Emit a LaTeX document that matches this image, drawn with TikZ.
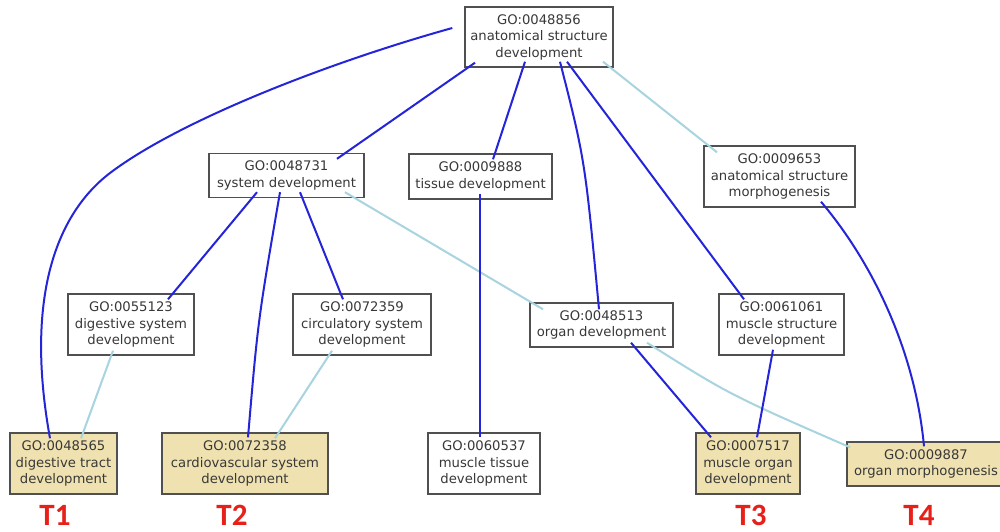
\documentclass[tikz,border=0pt]{standalone}
\usepackage{fontspec}
\setmainfont{DejaVu Sans}
\newfontfamily\labfont{Carlito}
\definecolor{edgeblue}{HTML}{2424D8}
\definecolor{edgelight}{HTML}{A8D4E0}
\definecolor{boxfill}{HTML}{F0E2B0}
\definecolor{boxdraw}{HTML}{505050}
\definecolor{boxtext}{HTML}{383838}
\definecolor{tred}{HTML}{E8201A}
\begin{document}
\begin{tikzpicture}[x=1pt,y=-1pt,
  gobox/.style={draw=boxdraw, line width=1.4pt, fill=white, text=boxtext, align=center,
    inner sep=0pt, font=\fontsize{13.2}{16.5}\selectfont},
  target/.style={gobox, fill=boxfill},
  isa/.style={draw=edgeblue, line width=2pt},
  partof/.style={draw=edgelight, line width=2pt},
  tlabel/.style={text=tred, font=\labfont\bfseries\fontsize{31}{31}\selectfont, inner sep=0pt}]
\useasboundingbox (0,0) rectangle (1000,531);
\fill[white] (0,0) rectangle (1000,531);
% nodes
\node[gobox, minimum width=148, minimum height=60] (A) at (539,37) {GO:0048856\\anatomical structure\\development};
\node[gobox, minimum width=155, minimum height=44] (B) at (286.5,175.5) {GO:0048731\\system development};
\node[gobox, minimum width=143, minimum height=45] (C) at (480.5,176.5) {GO:0009888\\tissue development};
\node[gobox, minimum width=151, minimum height=61] (D) at (779.5,176.5) {GO:0009653\\anatomical structure\\morphogenesis};
\node[gobox, minimum width=126, minimum height=61] (E) at (131,324.5) {GO:0055123\\digestive system\\development};
\node[gobox, minimum width=138, minimum height=61] (F) at (362,324.5) {GO:0072359\\circulatory system\\development};
\node[gobox, minimum width=143, minimum height=44] (G) at (601.5,325) {GO:0048513\\organ development};
\node[gobox, minimum width=125, minimum height=61] (H) at (781.5,324.5) {GO:0061061\\muscle structure\\development};
\node[target, minimum width=107, minimum height=61] (I) at (63.5,463.5) {GO:0048565\\digestive tract\\development};
\node[target, minimum width=166, minimum height=61] (J) at (245,463.5) {GO:0072358\\cardiovascular system\\development};
\node[gobox, minimum width=112, minimum height=61] (K) at (484,463.5) {GO:0060537\\muscle tissue\\development};
\node[target, minimum width=104, minimum height=61] (L) at (748,463.5) {GO:0007517\\muscle organ\\development};
\node[target, minimum width=158, minimum height=44] (M) at (926,464) {GO:0009887\\organ morphogenesis};
% target labels
\node[tlabel] (T1) at (55,515) {T1};
\node[tlabel] (T2) at (232,515) {T2};
\node[tlabel] (T3) at (751,515) {T3};
\node[tlabel] (T4) at (919,515) {T4};
% connectors (is_a: dark blue; other relations: light blue)
\path[isa] ([xshift=-12pt,yshift=9pt]A.west) .. controls (330,62) and (180,120) .. (110,173)
  .. controls (55,215) and (25,300) .. ([xshift=-13.5pt,yshift=-6pt]I.north);
\path[isa] ([xshift=-64pt,yshift=5pt]A.south) -- ([xshift=50.5pt,yshift=-6pt]B.north);
\path[isa] ([xshift=-14pt,yshift=6pt]A.south) -- ([xshift=12.5pt,yshift=-6pt]C.north);
\path[isa] ([xshift=21pt,yshift=6pt]A.south) .. controls (585,160) .. ([xshift=-2.5pt,yshift=-7pt]G.north);
\path[isa] ([xshift=28pt,yshift=6pt]A.south) -- ([xshift=-37.5pt,yshift=-6pt]H.north);
\path[partof] ([xshift=64pt,yshift=6pt]A.south) -- ([xshift=-62.5pt,yshift=-7pt]D.north);
\path[isa] ([xshift=-29.5pt,yshift=6pt]B.south) -- ([xshift=37pt,yshift=-6pt]E.north);
\path[isa] ([xshift=-6.5pt,yshift=6pt]B.south) .. controls (258,320) .. ([xshift=3pt,yshift=-5pt]J.north);
\path[isa] ([xshift=13.5pt,yshift=6pt]B.south) -- ([xshift=-19pt,yshift=-6pt]F.north);
\path[partof] ([xshift=58.5pt,yshift=6pt]B.south) -- ([xshift=-58.5pt,yshift=-7pt]G.north);
\path[isa] ([xshift=-0.5pt,yshift=6pt]C.south) -- ([xshift=-4pt,yshift=-5pt]K.north);
\path[isa] ([xshift=41.5pt,yshift=6pt]D.south) .. controls (872,262) and (915,350) .. ([xshift=-2pt,yshift=-5pt]M.north);
\path[partof] ([xshift=-18pt,yshift=5pt]E.south) -- ([xshift=17.5pt,yshift=-6pt]I.north);
\path[partof] ([xshift=-30pt,yshift=5pt]F.south) -- ([xshift=30pt,yshift=-6pt]J.north);
\path[isa] ([xshift=29.5pt,yshift=5pt]G.south) -- ([xshift=-37pt,yshift=-5pt]L.north);
\path[partof] ([xshift=45.5pt,yshift=5pt]G.south) .. controls (730,395) .. ([xshift=-76pt,yshift=-6pt]M.north);
\path[isa] ([xshift=-8.5pt,yshift=6pt]H.south) -- ([xshift=9pt,yshift=-5pt]L.north);
\end{tikzpicture}
\end{document}
